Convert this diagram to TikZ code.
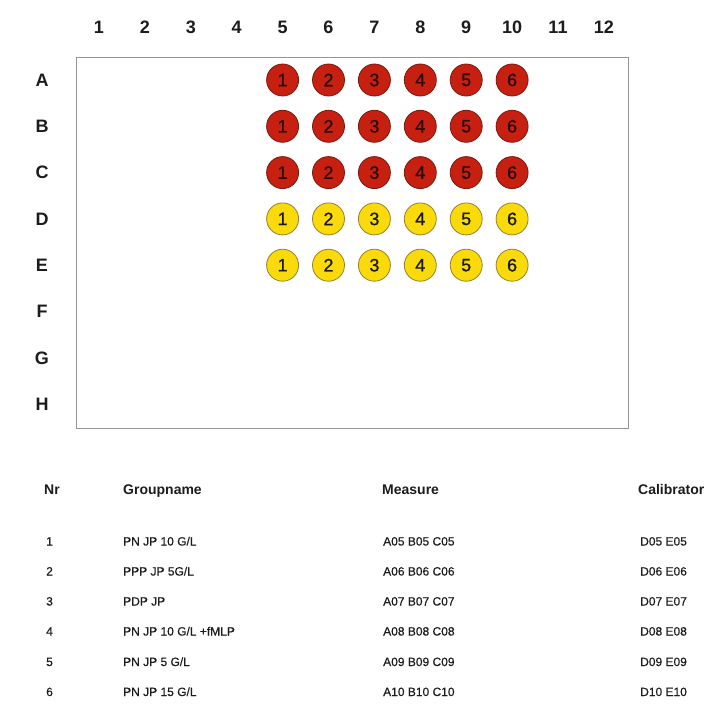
\documentclass[tikz,border=0pt]{standalone}
\usepackage{fontspec}
\setmainfont{Liberation Sans}
\newfontfamily\heavyfont[FakeBold=0.8]{Liberation Sans}
\newfontfamily\semifont[FakeBold=0.4]{Liberation Sans}
\definecolor{wellred}{RGB}{200,32,16}
\definecolor{redline}{RGB}{120,25,15}
\definecolor{rednum}{RGB}{40,8,5}
\definecolor{wellyellow}{RGB}{250,218,10}
\definecolor{yellowline}{RGB}{150,130,45}
\definecolor{yellownum}{RGB}{25,25,15}
\definecolor{inkgray}{RGB}{28,28,28}
\definecolor{plategray}{RGB}{150,150,150}
\begin{document}
\begin{tikzpicture}[x=1pt,y=-1pt,
  axislab/.style={font=\fontsize{18}{20}\selectfont\bfseries, inner sep=0pt, text=inkgray},
  platebox/.style={draw=plategray, line width=1pt, minimum width=552pt, minimum height=371pt, inner sep=0pt},
  wellbase/.style={circle, line width=0.8pt, minimum size=32pt, inner sep=0pt, font=\heavyfont\fontsize{18}{18}\selectfont},
  redwell/.style={wellbase, draw=redline, fill=wellred, text=rednum},
  yellowwell/.style={wellbase, draw=yellowline, fill=wellyellow, text=yellownum},
  headcell/.style={anchor=base west, inner sep=0pt, font=\fontsize{14}{16}\selectfont\bfseries, text=inkgray},
  datacell/.style={anchor=base west, inner sep=0pt, font=\semifont\fontsize{12}{14}\selectfont, text=inkgray}
]
\fill[white] (0,0) rectangle (709,713);
\useasboundingbox (0,0) rectangle (709,713);

% plate
\node[platebox] (plate) at (352.5,242.5) {};

% column labels
\foreach \c in {1,...,12}
  \node[axislab] (col\c) at ({99+45.9*(\c-1)},27) {\c};

% row labels
\foreach \r [count=\i from 0] in {A,B,C,D,E,F,G,H}
  \node[axislab] (row\r) at (42,{80+46.3*\i}) {\r};

% measure wells (red)
\foreach \r [count=\i from 0] in {A,B,C}
  \foreach \c [count=\n] in {5,...,10}
    \node[redwell] (w\r\c) at ({99+45.9*(\c-1)},{80+46.3*\i}) {\n};

% calibrator wells (yellow)
\foreach \r [count=\i from 3] in {D,E}
  \foreach \c [count=\n] in {5,...,10}
    \node[yellowwell] (w\r\c) at ({99+45.9*(\c-1)},{80+46.3*\i}) {\n};

% table header
\node[headcell] (hNr) at (44,494) {Nr};
\node[headcell] (hGroup) at (123,494) {Groupname};
\node[headcell] (hMeasure) at (382,494) {Measure};
\node[headcell] (hCal) at (638,494) {Calibrator};

% table rows
\node[datacell] (n1) at (46,545.5) {1};
\node[datacell] (g1) at (123,545.5) {PN JP 10 G/L};
\node[datacell] (m1) at (383,545.5) {A05 B05 C05};
\node[datacell] (c1) at (640,545.5) {D05 E05};

\node[datacell] (n2) at (46,575.5) {2};
\node[datacell] (g2) at (123,575.5) {PPP JP 5G/L};
\node[datacell] (m2) at (383,575.5) {A06 B06 C06};
\node[datacell] (c2) at (640,575.5) {D06 E06};

\node[datacell] (n3) at (46,605.5) {3};
\node[datacell] (g3) at (123,605.5) {PDP JP};
\node[datacell] (m3) at (383,605.5) {A07 B07 C07};
\node[datacell] (c3) at (640,605.5) {D07 E07};

\node[datacell] (n4) at (46,635.5) {4};
\node[datacell] (g4) at (123,635.5) {PN JP 10 G/L +fMLP};
\node[datacell] (m4) at (383,635.5) {A08 B08 C08};
\node[datacell] (c4) at (640,635.5) {D08 E08};

\node[datacell] (n5) at (46,666) {5};
\node[datacell] (g5) at (123,666) {PN JP 5 G/L};
\node[datacell] (m5) at (383,666) {A09 B09 C09};
\node[datacell] (c5) at (640,666) {D09 E09};

\node[datacell] (n6) at (46,696) {6};
\node[datacell] (g6) at (123,696) {PN JP 15 G/L};
\node[datacell] (m6) at (383,696) {A10 B10 C10};
\node[datacell] (c6) at (640,696) {D10 E10};
\end{tikzpicture}
\end{document}
